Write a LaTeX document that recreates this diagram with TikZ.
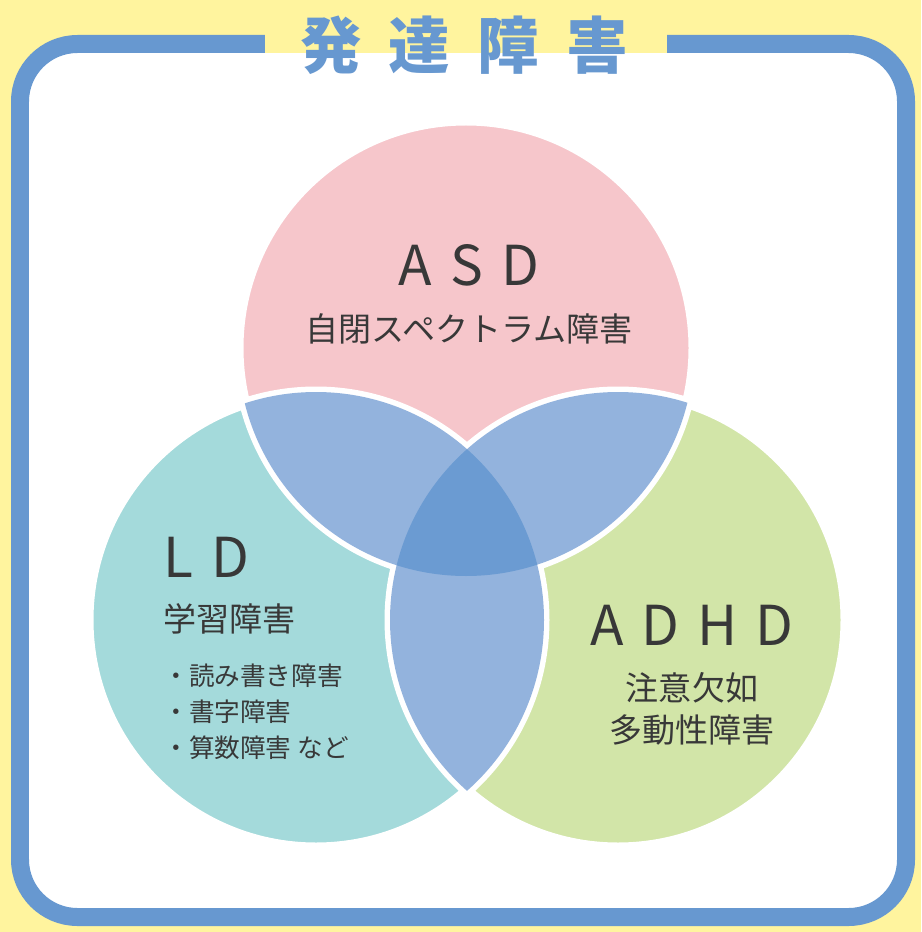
\documentclass[tikz,border=0pt]{standalone}
\usepackage{fontspec}
\setmainfont{Noto Sans CJK JP}
\newfontfamily\spacedfont[LetterSpace=33]{Noto Sans CJK JP}
\newfontfamily\titlefont[LetterSpace=44]{Noto Sans CJK JP}
\usetikzlibrary{positioning}

\definecolor{bgyellow}{HTML}{FFF49E}
\definecolor{frameblue}{HTML}{6798D0}
\definecolor{asdpink}{HTML}{F6C6CB}
\definecolor{ldteal}{HTML}{A4DADB}
\definecolor{adhdgreen}{HTML}{D2E5A8}
\definecolor{lensblue}{HTML}{93B3DD}
\definecolor{coreblue}{HTML}{6B9BD2}
\definecolor{inkgray}{HTML}{383838}

\begin{document}
\begin{tikzpicture}[
    x=0.02cm, y=-0.02cm,
    boxframe/.style={draw=frameblue, line width=0.36cm, rounded corners=1.15cm, fill=white},
    circleline/.style={draw=white, line width=0.22cm},
    lensfill/.style={fill=lensblue},
    corefill/.style={fill=coreblue},
    heading/.style={inner sep=0pt, text=frameblue, font=\titlefont\bfseries\fontsize{35}{40}\selectfont},
    acro/.style={inner sep=0pt, text=inkgray, font=\spacedfont\fontsize{31.3}{36}\selectfont},
    subtext/.style={inner sep=0pt, text=inkgray, align=center, font=\fontsize{18.8}{24}\selectfont},
    itemtext/.style={inner sep=0pt, text=inkgray, align=left, font=\fontsize{14.6}{20.5}\selectfont}
]

% Background and frame
\useasboundingbox (0,0) rectangle (921,932);
\fill[bgyellow] (0,0) rectangle (921,932);
\draw[boxframe] (20,44) rectangle (906,917);
\fill[bgyellow] (265,33) rectangle (667,53.5);

% Title
\node[heading] (title) at (464,45) {発達障害};

% Circle centres
\coordinate (asdc) at (466,348);
\coordinate (ldc) at (316,620);
\coordinate (adhdc) at (618,620);

% Circles
\fill[asdpink] (asdc) circle [radius=228];
\fill[ldteal] (ldc) circle [radius=228];
\fill[adhdgreen] (adhdc) circle [radius=228];
\draw[circleline] (asdc) circle [radius=228] (ldc) circle [radius=228] (adhdc) circle [radius=228];

% Pairwise overlaps
\begin{scope}
  \clip (asdc) circle [radius=228];
  \fill[lensfill] (ldc) circle [radius=228];
  \fill[lensfill] (adhdc) circle [radius=228];
\end{scope}
\begin{scope}
  \clip (ldc) circle [radius=228];
  \fill[lensfill] (adhdc) circle [radius=228];
\end{scope}

% Overlap of all three
\begin{scope}
  \clip (asdc) circle [radius=228];
  \clip (ldc) circle [radius=228];
  \fill[corefill] (adhdc) circle [radius=228];
\end{scope}

% ASD
\node[acro] (asd) at (469,265) {ASD};
\node[subtext, below=0.55cm of asd] (asdsub) {自閉スペクトラム障害};

% LD
\node[acro, anchor=west] (ld) at (163,557) {LD};
\node[subtext, below=0.51cm of ld.south west, anchor=north west] (ldsub) {学習障害};
\node[itemtext, below=0.58cm of ldsub.south west, anchor=north west] (lditems) {・読み書き障害\\・書字障害\\・算数障害 など};

% ADHD
\node[acro] (adhd) at (692,625) {ADHD};
\node[subtext, below=0.53cm of adhd] (adhdsub) {注意欠如\\多動性障害};

\end{tikzpicture}
\end{document}
